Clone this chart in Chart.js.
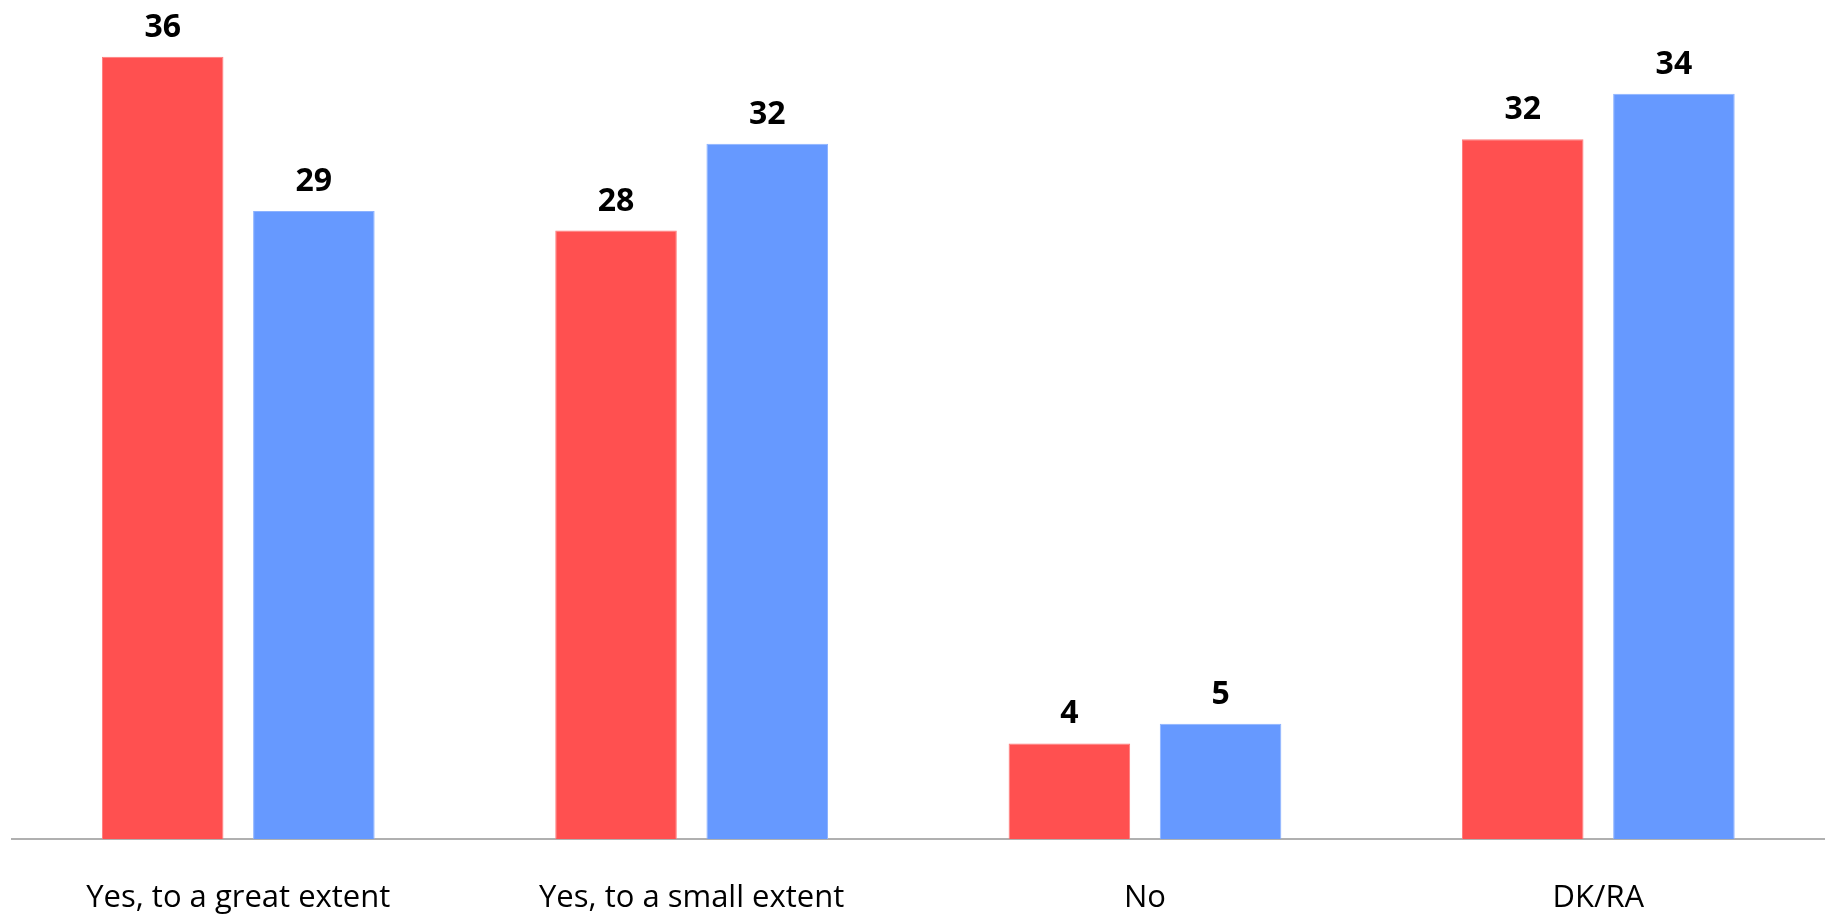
<!DOCTYPE html>
<html>
<head>
<meta charset="utf-8">
<script src="https://cdn.jsdelivr.net/npm/chart.js@4"></script>
<style>
  html, body { margin: 0; padding: 0; background: #fff; overflow: hidden; }
</style>
</head>
<body>
<canvas id="grafico" width="1825" height="918"></canvas>
<script>
// categorias do eixo X
var categorias = ["Yes, to a great extent", "Yes, to a small extent", "No", "DK/RA"];

// valores das duas séries
var serieVermelha = [36, 28, 4.4, 32.2];
var serieAzul = [28.9, 32, 5.3, 34.3];

// rótulos de valor em cima das barras
var rotulosValores = {
  id: 'rotulosValores',
  afterDatasetsDraw: function(chart) {
    var ctx = chart.ctx;
    ctx.save();
    ctx.font = "bold 32px 'Open Sans'";
    ctx.fillStyle = "#000";
    ctx.textAlign = "center";
    ctx.textBaseline = "alphabetic";
    chart.data.datasets.forEach(function(ds, i) {
      chart.getDatasetMeta(i).data.forEach(function(bar, j) {
        ctx.fillText(Math.round(ds.data[j]), bar.x, bar.y - 20);
      });
    });
    ctx.restore();
  }
};

function desenhar() {
  var ctx = document.getElementById("grafico");
  new Chart(ctx, {
    type: 'bar',
    data: {
      labels: categorias,
      datasets: [
        {
          data: serieVermelha,
          backgroundColor: "#ff5050",
          borderColor: "#ff7a7a",
          borderWidth: 1,
          barPercentage: 0.804,
          categoryPercentage: 0.667
        },
        {
          data: serieAzul,
          backgroundColor: "#6699ff",
          borderColor: "#8cb2ff",
          borderWidth: 1,
          barPercentage: 0.804,
          categoryPercentage: 0.667
        }
      ]
    },
    options: {
      responsive: false,
      animation: false,
      layout: { padding: { left: 11.6, right: -1.7, top: 13.3, bottom: 0 } },
      plugins: {
        legend: { display: false },
        tooltip: { enabled: false }
      },
      scales: {
        x: {
          grid: { display: false, drawTicks: false },
          border: { display: true, color: "#b0b0b0", width: 2 },
          ticks: {
            color: "#000",
            font: { family: "Open Sans", size: 31 },
            padding: 41,
            maxRotation: 0
          },
          afterFit: function(scale) { scale.height = 79; }
        },
        y: {
          display: false,
          min: 0,
          max: 38
        }
      }
    },
    plugins: [rotulosValores]
  });
}

// garante que as fontes estejam carregadas antes de desenhar
Promise.all([
  document.fonts.load("bold 32px 'Open Sans'"),
  document.fonts.load("31px 'Open Sans'")
]).then(desenhar, desenhar);
</script>
</body>
</html>
